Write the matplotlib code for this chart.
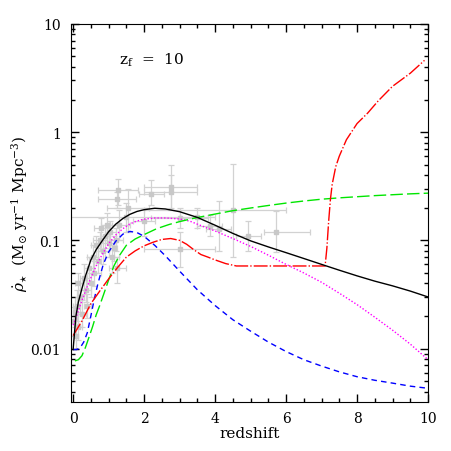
import numpy as np
import matplotlib
matplotlib.use("Agg")
import matplotlib.pyplot as plt
from matplotlib.ticker import FixedLocator, FixedFormatter, LogLocator, MultipleLocator, NullFormatter

plt.rcParams['font.family'] = ['DejaVu Serif']
plt.rcParams['mathtext.fontset'] = 'dejavuserif'

# model curves (redshift, SFR density)
z_black = [0, 0.04, 0.08, 0.15, 0.25, 0.35, 0.5, 0.65, 0.8, 1.0, 1.2, 1.4, 1.6, 1.8, 2.0, 2.3, 2.6,
           3.0, 3.5, 4.0, 4.5, 5.0, 5.5, 6.0, 6.5, 7.0, 7.5, 8.0, 8.5, 9.0, 9.5, 10.0]
sfr_black = [0.0098, 0.014, 0.02, 0.027, 0.036, 0.047, 0.066, 0.082, 0.097, 0.12, 0.141, 0.159, 0.174,
             0.185, 0.192, 0.198, 0.195, 0.184, 0.163, 0.138, 0.116, 0.099, 0.087, 0.077, 0.068, 0.06,
             0.053, 0.047, 0.042, 0.038, 0.034, 0.030]

z_mag = [0, 0.1, 0.2, 0.35, 0.5, 0.65, 0.8, 1.0, 1.2, 1.4, 1.6, 1.8, 2.0, 2.3, 2.6, 3.0, 3.3, 3.6,
         4.0, 4.5, 5.0, 5.5, 6.0, 6.5, 7.0, 7.5, 8.0, 8.5, 9.0, 9.5, 10.0]
sfr_mag = [0.0165, 0.02, 0.025, 0.034, 0.045, 0.058, 0.072, 0.093, 0.112, 0.128, 0.142, 0.151, 0.157,
           0.161, 0.161, 0.158, 0.15, 0.137, 0.122, 0.104, 0.088, 0.073, 0.06, 0.05, 0.041, 0.0325,
           0.0255, 0.0195, 0.0148, 0.011, 0.0079]

z_blue = [0, 0.1, 0.2, 0.3, 0.4, 0.5, 0.6, 0.7, 0.85, 1.0, 1.2, 1.4, 1.6, 1.8, 2.0, 2.3, 2.6, 3.0,
          3.5, 4.0, 4.5, 5.0, 5.5, 6.0, 6.5, 7.0, 7.5, 8.0, 8.5, 9.0, 9.5, 10.0]
sfr_blue = [0.0098, 0.0098, 0.0102, 0.0115, 0.014, 0.02, 0.029, 0.04, 0.06, 0.078, 0.098, 0.114,
            0.121, 0.118, 0.109, 0.09, 0.072, 0.052, 0.035, 0.025, 0.0185, 0.0145, 0.0115, 0.0094,
            0.0079, 0.0069, 0.0061, 0.0055, 0.0051, 0.0048, 0.0045, 0.0043]

z_green = [0.05, 0.15, 0.25, 0.35, 0.45, 0.55, 0.65, 0.75, 0.85, 1.0, 1.15, 1.3, 1.5, 1.75, 2.0,
           2.35, 2.7, 3.0, 3.4, 3.8, 4.5, 5.0, 5.5, 6.0, 6.5, 7.0, 7.5, 8.0, 8.5, 9.0, 9.5, 10.0]
sfr_green = [0.0077, 0.0079, 0.0086, 0.0103, 0.0128, 0.016, 0.0205, 0.025, 0.031, 0.043, 0.058,
             0.072, 0.09, 0.103, 0.113, 0.128, 0.14, 0.149, 0.16, 0.17, 0.188, 0.199, 0.21, 0.221,
             0.231, 0.24, 0.247, 0.253, 0.259, 0.264, 0.269, 0.273]

z_red = [0, 0.25, 0.5, 0.75, 1.0, 1.25, 1.5, 1.75, 2.0, 2.25, 2.5, 2.75, 3.0, 3.2, 3.4, 3.6, 3.8,
         4.0, 4.3, 4.6, 5.0, 6.0, 7.1, 7.15, 7.2, 7.25, 7.3, 7.4, 7.5, 7.7, 8.0, 8.3, 8.6, 9.0,
         9.5, 9.9]
sfr_red = [0.0132, 0.018, 0.026, 0.034, 0.044, 0.056, 0.07, 0.08, 0.089, 0.096, 0.102, 0.104, 0.1,
           0.092, 0.082, 0.074, 0.07, 0.066, 0.061, 0.058, 0.058, 0.058, 0.058, 0.085, 0.15, 0.24,
           0.33, 0.48, 0.6, 0.85, 1.2, 1.5, 1.95, 2.65, 3.5, 4.6]

# observed SFR density compilation (grey points)
obs_z = [0.02, 0.05, 0.08, 0.1, 0.15, 0.15, 0.2, 0.25, 0.3, 0.35, 0.4, 0.45, 0.5, 0.55, 0.6, 0.65,
         0.7, 0.75, 0.8, 0.85, 0.9, 0.95, 1.0, 1.05, 1.1, 1.15, 1.2, 1.25, 1.3,
         1.27, 1.24, 1.5, 1.55, 2.0, 2.2, 2.75, 2.75, 3.0, 3.0, 3.5, 3.85, 4.1, 4.5, 4.93, 5.73]
obs_sfr = [0.018, 0.022, 0.013, 0.025, 0.016, 0.04, 0.03, 0.021, 0.045, 0.035, 0.025, 0.055, 0.04,
           0.07, 0.05, 0.09, 0.065, 0.1, 0.13, 0.08, 0.11, 0.14, 0.095, 0.12, 0.07, 0.085, 0.1,
           0.055, 0.14,
           0.29, 0.24, 0.165, 0.2, 0.15, 0.27, 0.31, 0.28, 0.083, 0.16, 0.163, 0.137, 0.128, 0.19,
           0.11, 0.12]
obs_dz_lo = [0.02, 0.05, 0.05, 0.1, 0.1, 0.1, 0.1, 0.1, 0.1, 0.15, 0.1, 0.15, 0.1, 0.15, 0.2, 0.15,
             0.1, 0.2, 0.2, 0.15, 0.1, 0.15, 0.2, 0.15, 0.2, 0.1, 0.2, 0.25, 0.3,
             0.56, 0.54, 1.56, 0.6, 0.3, 0.35, 0.75, 0.75, 1.0, 0.8, 0.5, 0.35, 0.35, 2.5, 0.35, 0.35]
obs_dz_hi = [0.02, 0.05, 0.05, 0.1, 0.1, 0.1, 0.1, 0.1, 0.1, 0.15, 0.1, 0.15, 0.1, 0.15, 0.2, 0.15,
             0.1, 0.2, 0.2, 0.15, 0.1, 0.15, 0.2, 0.15, 0.2, 0.1, 0.2, 0.25, 0.3,
             0.56, 0.54, 1.5, 0.6, 0.3, 0.35, 0.75, 0.75, 1.0, 0.8, 0.5, 0.35, 0.35, 1.5, 0.35, 0.95]
obs_lo = [0.013, 0.016, 0.01, 0.018, 0.012, 0.03, 0.022, 0.016, 0.032, 0.027, 0.019, 0.04, 0.03,
          0.05, 0.038, 0.07, 0.05, 0.08, 0.1, 0.06, 0.085, 0.11, 0.07, 0.09, 0.05, 0.065, 0.08,
          0.04, 0.1,
          0.21, 0.2, 0.12, 0.12, 0.11, 0.21, 0.2, 0.19, 0.057, 0.13, 0.13, 0.11, 0.08, 0.07, 0.08,
          0.078]
obs_hi = [0.024, 0.03, 0.017, 0.035, 0.021, 0.05, 0.04, 0.028, 0.06, 0.045, 0.032, 0.07, 0.05,
          0.09, 0.065, 0.11, 0.085, 0.12, 0.16, 0.1, 0.14, 0.18, 0.12, 0.15, 0.09, 0.11, 0.13,
          0.07, 0.19,
          0.37, 0.28, 0.22, 0.3, 0.2, 0.36, 0.5, 0.4, 0.119, 0.2, 0.2, 0.17, 0.23, 0.51, 0.15, 0.185]

fig = plt.figure(figsize=(4.52, 4.52), dpi=100)
ax = fig.add_axes([0.157, 0.108, 0.790, 0.837])

yerr = [np.array(obs_sfr) - np.array(obs_lo), np.array(obs_hi) - np.array(obs_sfr)]
ax.errorbar(obs_z, obs_sfr, xerr=[obs_dz_lo, obs_dz_hi], yerr=yerr, fmt='s', ms=2.5,
            color='#c8c8c8', ecolor='#d2d2d2', elinewidth=0.9, capsize=2, capthick=0.9, zorder=1)

ax.plot(z_black, sfr_black, color='black', lw=1.0, zorder=5)
ax.plot(z_mag, sfr_mag, color='#ff00ff', lw=1.0, dashes=(1, 1.4), zorder=4)
ax.plot(z_blue, sfr_blue, color='#0000ff', lw=1.0, dashes=(4, 3), zorder=4)
ax.plot(z_green, sfr_green, color='#00e600', lw=1.0, dashes=(9, 3), zorder=4)
ax.plot(z_red, sfr_red, color='#ff0000', lw=1.0, dashes=(10, 1.5, 1, 1.5), zorder=4)

ax.set_yscale('log')
ax.set_xlim(-0.06, 10)
ax.set_ylim(0.0032, 10)

ax.xaxis.set_major_locator(MultipleLocator(2))
ax.xaxis.set_minor_locator(MultipleLocator(0.5))
ax.yaxis.set_major_locator(FixedLocator([0.01, 0.1, 1, 10]))
ax.yaxis.set_major_formatter(FixedFormatter(['0.01', '0.1', '1', '10']))
ax.yaxis.set_minor_locator(LogLocator(base=10, subs=np.arange(2, 10)))
ax.yaxis.set_minor_formatter(NullFormatter())

ax.tick_params(which='both', direction='in', top=True, right=True, labelsize=10)
ax.tick_params(which='major', length=6, width=1)
ax.tick_params(which='minor', length=3, width=1)
ax.tick_params(axis='y', pad=7)
ax.tick_params(axis='x', pad=6)

ax.set_xlabel('redshift', fontsize=11, labelpad=1)
ax.set_ylabel(r'$\dot{\rho}_{\star}$  (M$_{\odot}$ yr$^{-1}$ Mpc$^{-3}$)', fontsize=11)
ax.yaxis.set_label_coords(-0.115, 0.5)

ax.text(0.134, 0.906, r'z$_{\rm f}$  =  10', transform=ax.transAxes, fontsize=11,
        ha='left', va='center')

fig.savefig('out.png', dpi=100)
